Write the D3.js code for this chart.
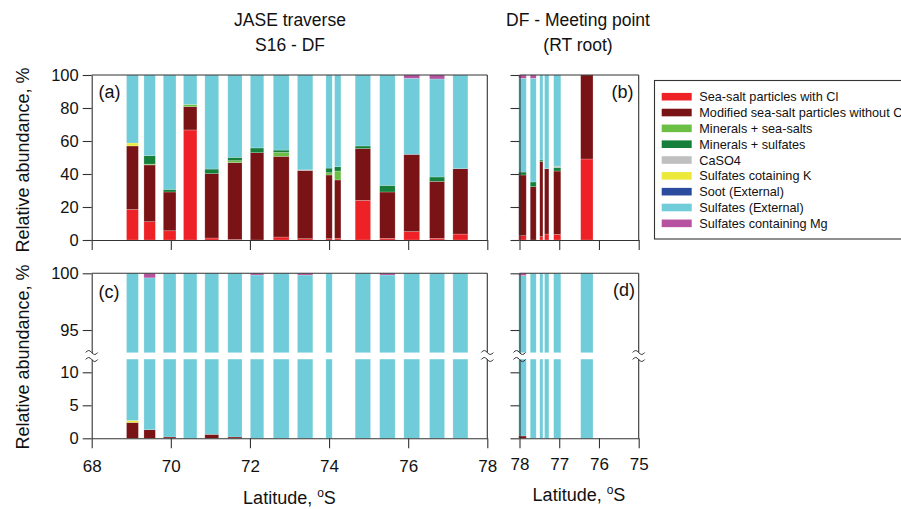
<!DOCTYPE html>
<html><head><meta charset="utf-8">
<script src="https://cdn.jsdelivr.net/npm/d3@7"></script>
<style>
body{margin:0;background:#fff;}
svg text{font-family:Arial,"Liberation Sans",Helvetica,sans-serif;fill:#111;}
</style>
</head><body>
<svg id="chart" width="901" height="509"></svg>
<script>
// ---------- DATA ----------
const species = ["Sea-salt particles with Cl","Modified sea-salt particles without Cl","Minerals + sea-salts","Minerals + sulfates","CaSO4","Sulfates cotaining K","Soot (External)","Sulfates (External)","Sulfates containing Mg"];
const speciesColors = ["#ee2226","#7a1315","#6cbf45","#167f3c","#bfbfbf","#ece93b","#2b4b9f","#70ccd8","#b6529f"];

// Panel (a): JASE traverse, latitude bins (deg S)
const aLatStart = [68.88,69.32,69.81,70.32,70.86,71.44,72.01,72.59,73.20,73.92,74.14,74.66,75.28,75.89,76.54,77.13];
const aLatEnd   = [69.18,69.61,70.13,70.66,71.21,71.80,72.35,72.99,73.59,74.08,74.30,75.05,75.67,76.29,76.92,77.51];
// rows: [Cl, modified, min+sea, min+sulf, CaSO4, K, soot, sulfates ext, Mg]
const aValues = [
  [18.5,38.5,0,0,0,1.8,0,41.2,0],
  [11.1,34.4,0.5,5.1,0,0,0,48.9,0],
  [5.6,23.5,0,1.6,0,0,0,69.3,0],
  [66.7,14.1,1.4,0,0,0,0,17.8,0],
  [1.2,39.0,0,2.8,0,0,0,57.0,0],
  [0.3,46.6,1.2,2.0,0,0,0,49.9,0],
  [0,52.9,0,2.9,0,0,0,44.2,0],
  [1.8,48.9,2.4,1.4,0,0,0,45.5,0],
  [0.8,41.4,0,0,0.3,0,0,57.5,0],
  [0.8,38.6,1.4,2.8,0,0,0,56.4,0],
  [1.0,35.4,5.4,2.6,0,0,0,55.6,0],
  [24.0,31.4,0,1.6,0,0,0,43.0,0],
  [1.0,28.1,0,4.0,0,0,0,66.9,0],
  [5.1,46.8,0,0,0,0,0,46.1,2.0],
  [1.0,34.5,0,2.7,0,0,0,59.4,2.4],
  [3.6,39.6,0,0,0,0,0,56.8,0]
];

// Panel (b): DF - Meeting point
const bLatStart = [78.02,77.73,77.49,77.37,77.14,76.46];
const bLatEnd   = [77.83,77.58,77.41,77.26,76.96,76.15];
const bValues = [
  [2.6,36.8,0,1.8,0,0,0,56.8,2.0],
  [0,32.3,0,2.9,0,0,0,62.8,2.0],
  [2.0,45.5,0,1.0,0,0,0,51.5,0],
  [3.6,39.6,0,0,0,0,0,56.8,0],
  [3.4,38.4,0,2.2,0.8,0,0,55.2,0],
  [49.1,50.9,0,0,0,0,0,0,0]
];

// Panel (c): JASE traverse (broken axis)
const cLatStart = [68.88,69.32,69.81,70.32,70.86,71.44,72.01,72.59,73.20,73.92,74.66,75.28,75.89,76.54,77.13];
const cLatEnd   = [69.18,69.61,70.13,70.66,71.21,71.80,72.35,72.99,73.59,74.08,75.05,75.67,76.29,76.92,77.51];
const cValues = [
  [0,2.4,0,0,0,0.3,0,97.3,0],
  [0,1.3,0,0,0,0,0,98.3,0.4],
  [0,0.2,0,0,0,0,0,99.8,0],
  [0,0,0,0,0,0,0,100,0],
  [0,0.6,0,0,0,0,0,99.4,0],
  [0,0.2,0,0,0,0,0,99.8,0],
  [0,0,0,0,0,0,0,99.85,0.15],
  [0,0,0,0,0,0,0,100,0],
  [0,0,0,0,0,0,0,99.85,0.15],
  [0,0,0,0,0,0,0,100,0],
  [0,0,0,0,0,0,0,100,0],
  [0,0,0,0,0,0,0,99.85,0.15],
  [0,0,0,0,0,0,0,100,0],
  [0,0,0,0,0,0,0,100,0],
  [0,0,0,0,0,0,0,100,0]
];

// Panel (d)
const dLatStart = [78.02,77.73,77.49,77.37,77.14,76.46];
const dLatEnd   = [77.83,77.58,77.41,77.26,76.96,76.15];
const dValues = [
  [0,0.35,0,0,0,0,0,99.45,0.2],
  [0,0,0,0,0,0,0,100,0],
  [0,0,0,0,0,0,0,100,0],
  [0,0,0,0,0,0,0,100,0],
  [0,0,0,0,0,0,0,100,0],
  [0,0,0,0,0,0,0,100,0]
];

const xTicksLeft = [68,70,72,74,76,78];
const xTicksRight = [78,77,76,75];
const yTicksTop = [0,20,40,60,80,100];
const yTicksBreakUpper = [95,100];
const yTicksBreakLower = [0,5,10];
const titleLeft = ["JASE traverse","S16 - DF"];
const titleRight = ["DF - Meeting point","(RT root)"];
const panelLabels = ["(a)","(b)","(c)","(d)"];
const yTitle = "Relative abundance, %";

// ---------- LAYOUT ----------
const svg = d3.select("#chart");
const axisColor = "#333";
const fmt = d3.format("d");
const xL = d3.scaleLinear().domain([68,78]).range([91.7,487.3]);
const xR = d3.scaleLinear().domain([78,75]).range([519.5,638.7]);
const yTop = d3.scaleLinear().domain([0,100]).range([240,75]);
const yUp = d3.scaleLinear().domain([93,100]).range([352.7,273.3]);
const yLo = d3.scaleLinear().domain([0,12]).range([438.3,359.1]);

const stack = d3.stack().keys(species.map((s,i)=>i));
function toRows(vals){ return vals.map(r => { const o={}; r.forEach((v,i)=>o[i]=v); return o; }); }

function drawBars(x, latS, latE, vals, segs){
  const series = stack(toRows(vals));
  const g = svg.append("g");
  series.forEach((ser, k) => {
    ser.forEach((d, j) => {
      const x0 = Math.min(x(latS[j]), x(latE[j]));
      const w = Math.abs(x(latE[j]) - x(latS[j]));
      segs.forEach(sg => {
        const lo = Math.max(d[0], sg.lo), hi = Math.min(d[1], sg.hi);
        if (hi > lo) {
          g.append("rect")
            .attr("x", x0).attr("width", w)
            .attr("y", sg.y(hi)).attr("height", sg.y(lo) - sg.y(hi))
            .attr("fill", speciesColors[k])
            .attr("stroke", "#ffffff").attr("stroke-opacity", 0.35).attr("stroke-width", 0.6);
        }
      });
    });
  });
}

const segTop = [{y:yTop, lo:0, hi:100}];
const segBreak = [{y:yUp, lo:93, hi:100},{y:yLo, lo:0, hi:12}];
drawBars(xL, aLatStart, aLatEnd, aValues, segTop);
drawBars(xR, bLatStart, bLatEnd, bValues, segTop);
drawBars(xL, cLatStart, cLatEnd, cValues, segBreak);
drawBars(xR, dLatStart, dLatEnd, dValues, segBreak);

function styleAxis(g, fs){
  g.selectAll("path.domain").attr("stroke", axisColor).attr("stroke-width", 1.1);
  g.selectAll(".tick line").attr("stroke", axisColor).attr("stroke-width", 1.1);
  g.selectAll(".tick text").attr("font-size", fs).attr("fill", "#111")
    .attr("font-family", "Arial, 'Liberation Sans', sans-serif");
}
function hline(x1,x2,y){ svg.append("line").attr("x1",x1).attr("x2",x2).attr("y1",y).attr("y2",y).attr("stroke",axisColor).attr("stroke-width",1.1); }
function vline(x,y1,y2){ svg.append("line").attr("x1",x).attr("x2",x).attr("y1",y1).attr("y2",y2).attr("stroke",axisColor).attr("stroke-width",1.1); }
function squiggle(x, y){
  svg.append("path").attr("d", `M${x-6},${y} q3,-4 6,0 t6,0`).attr("fill","none").attr("stroke",axisColor).attr("stroke-width",1);
}

// Panel a axes
styleAxis(svg.append("g").attr("transform","translate(91.7,0)")
  .call(d3.axisLeft(yTop).tickValues(yTicksTop).tickFormat(fmt).tickSize(9).tickSizeOuter(0).tickPadding(4)), "16.5px");
styleAxis(svg.append("g").attr("transform","translate(0,240)")
  .call(d3.axisBottom(xL).tickValues(xTicksLeft).tickSize(10).tickSizeOuter(0).tickFormat("")), "16px");
hline(91.7,487.3,75); vline(487.3,75,240);

// Panel b axes
styleAxis(svg.append("g").attr("transform","translate(519.5,0)")
  .call(d3.axisLeft(yTop).tickValues(yTicksTop).tickSize(9).tickSizeOuter(0).tickFormat("")), "16px");
styleAxis(svg.append("g").attr("transform","translate(0,240)")
  .call(d3.axisBottom(xR).tickValues(xTicksRight).tickSize(10).tickSizeOuter(0).tickFormat("")), "16px");
hline(519.5,638.7,75); vline(638.7,75,240);

// Panel c axes (broken)
styleAxis(svg.append("g").attr("transform","translate(91.7,0)")
  .call(d3.axisLeft(yUp).tickValues(yTicksBreakUpper).tickFormat(fmt).tickSize(9).tickSizeOuter(0).tickPadding(4)), "16.5px");
styleAxis(svg.append("g").attr("transform","translate(91.7,0)")
  .call(d3.axisLeft(yLo).tickValues(yTicksBreakLower).tickFormat(fmt).tickSize(9).tickSizeOuter(0).tickPadding(4)), "16.5px");
styleAxis(svg.append("g").attr("transform","translate(0,438.3)")
  .call(d3.axisBottom(xL).tickValues(xTicksLeft).tickFormat(fmt).tickSize(10).tickSizeOuter(0).tickPadding(12)), "17px");
hline(91.7,487.3,273.3); vline(487.3,273.3,352.7); vline(487.3,359.1,438.3);

// Panel d axes (broken)
styleAxis(svg.append("g").attr("transform","translate(519.5,0)")
  .call(d3.axisLeft(yUp).tickValues(yTicksBreakUpper).tickSize(9).tickSizeOuter(0).tickFormat("")), "16px");
styleAxis(svg.append("g").attr("transform","translate(519.5,0)")
  .call(d3.axisLeft(yLo).tickValues(yTicksBreakLower).tickSize(9).tickSizeOuter(0).tickFormat("")), "16px");
styleAxis(svg.append("g").attr("transform","translate(0,438.3)")
  .call(d3.axisBottom(xR).tickValues(xTicksRight).tickFormat(fmt).tickSize(10).tickSizeOuter(0).tickPadding(10)), "17px");
hline(519.5,638.7,273.3); vline(638.7,273.3,352.7); vline(638.7,359.1,438.3);

// break marks
[91.7, 487.3, 519.5, 638.7].forEach(x => { squiggle(x, 352.5); squiggle(x, 359.5); });

// Titles
const tfs = "17.5px";
[[titleLeft,290],[titleRight,578]].forEach(([lines,cx]) => {
  lines.forEach((t,i) => svg.append("text").attr("x",cx).attr("y",26 + i*25)
    .attr("text-anchor","middle").attr("font-size",tfs).text(t));
});

// Panel labels
svg.append("text").attr("x",98.5).attr("y",98).attr("font-size","18px").text(panelLabels[0]);
svg.append("text").attr("x",633.5).attr("y",98).attr("text-anchor","end").attr("font-size","18px").text(panelLabels[1]);
svg.append("text").attr("x",98.5).attr("y",298).attr("font-size","18px").text(panelLabels[2]);
svg.append("text").attr("x",635).attr("y",296).attr("text-anchor","end").attr("font-size","18px").text(panelLabels[3]);

// Y titles
[160, 357].forEach(cy => svg.append("text").attr("transform",`translate(29,${cy}) rotate(-90)`)
  .attr("text-anchor","middle").attr("font-size","18px").text(yTitle));

// X titles
function xTitle(cx, y){
  const t = svg.append("text").attr("x",cx).attr("y",y).attr("text-anchor","middle").attr("font-size","18px");
  t.append("tspan").text("Latitude, ");
  t.append("tspan").attr("font-size","12px").attr("dy","-7").text("o");
  t.append("tspan").attr("dy","7").text("S");
}
xTitle(289.5, 504);
xTitle(579, 501);

// Legend
const lg = svg.append("g");
lg.append("rect").attr("x",654.5).attr("y",80.5).attr("width",270).attr("height",158.5)
  .attr("fill","none").attr("stroke",axisColor).attr("stroke-width",1.1);
species.forEach((s,i) => {
  const cy = 96.7 + i*15.83;
  lg.append("rect").attr("x",661.7).attr("y",cy-3.8).attr("width",30).attr("height",7.6).attr("fill",speciesColors[i]);
  lg.append("text").attr("x",699.3).attr("y",cy).attr("dy","0.36em").attr("font-size","12.7px").text(s);
});
</script>
</body></html>
